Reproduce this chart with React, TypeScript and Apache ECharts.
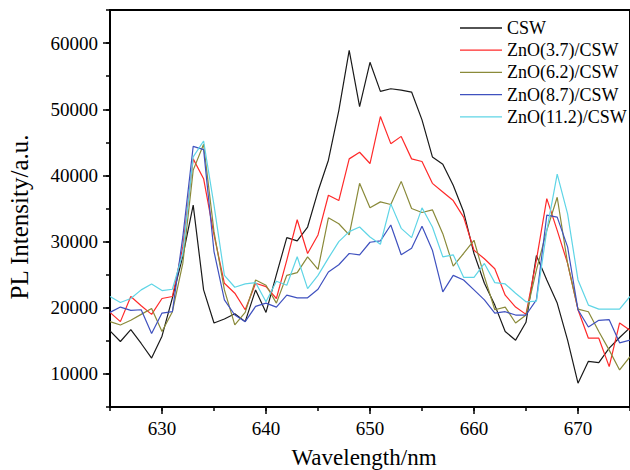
import React, { useEffect, useRef } from 'react';
import * as echarts from 'echarts';

const wavelengths = [
  625, 626, 627, 628, 629, 630, 631, 632, 633, 634,
  635, 636, 637, 638, 639, 640, 641, 642, 643, 644,
  645, 646, 647, 648, 649, 650, 651, 652, 653, 654,
  655, 656, 657, 658, 659, 660, 661, 662, 663, 664,
  665, 666, 667, 668, 669, 670, 671, 672, 673, 674, 675,
];

const csw = [
  16500, 14900, 16700, 14600, 12400, 15700, 21500, 27800, 35500, 22700,
  17700, 18300, 19100, 17900, 22700, 19300, 25000, 30600, 30100, 32200,
  37600, 42300, 49800, 58900, 50400, 57100, 52700, 53100, 52900, 52600,
  48400, 42800, 41700, 38500, 34500, 28200, 23700, 20400, 16400, 15100,
  17800, 27900, 24200, 20700, 15100, 8600, 11900, 11700, 13900, 15500, 17000,
];

const zno37 = [
  19300, 17900, 21700, 20300, 19000, 21400, 21700, 29200, 42500, 39500,
  31000, 23700, 22200, 19700, 23700, 23200, 21400, 27200, 33300, 28200,
  31000, 37000, 36200, 42500, 43500, 41800, 48900, 44800, 45900, 42500,
  42100, 38800, 37500, 36200, 33700, 28700, 27400, 25900, 21900, 20100,
  19000, 27200, 36500, 31700, 26700, 19700, 15400, 15400, 11100, 17700, 16600,
];

const zno62 = [
  17900, 17400, 18100, 19000, 19900, 16400, 19400, 26700, 40800, 44700,
  31500, 22700, 17400, 19300, 24200, 23400, 20700, 24900, 25300, 27700,
  25800, 33600, 32700, 31000, 38800, 35100, 36000, 35600, 39100, 35000,
  34400, 34800, 31200, 26300, 28200, 30200, 24700, 19700, 20100, 17700,
  18900, 25700, 31700, 36700, 26700, 19800, 19400, 16400, 13600, 10600, 12600,
];

const zno87 = [
  19300, 20100, 19600, 19700, 16100, 19200, 19400, 30700, 44400, 43900,
  28500, 21200, 18900, 17900, 20200, 20700, 20100, 21900, 21500, 21500,
  22800, 25400, 26500, 28200, 28000, 29900, 30100, 32500, 28000, 29000,
  32300, 28700, 22400, 24900, 24200, 22700, 21200, 19200, 19400, 18900,
  18900, 21200, 34000, 33700, 29200, 19700, 17100, 18100, 18200, 14700, 15100,
];

const zno112 = [
  21700, 20800, 21400, 22700, 23600, 22600, 22800, 28200, 42800, 45200,
  35500, 24900, 23100, 23600, 23800, 20900, 24000, 23400, 27700, 22900,
  24900, 27500, 30000, 31500, 32200, 30700, 29600, 35700, 32000, 30600,
  35100, 32200, 27700, 28000, 24600, 24600, 26700, 23800, 23600, 22200,
  20900, 21000, 31700, 40200, 34200, 24200, 20400, 19800, 19800, 19800, 21700,
];

const seriesNames = ['CSW', 'ZnO(3.7)/CSW', 'ZnO(6.2)/CSW', 'ZnO(8.7)/CSW', 'ZnO(11.2)/CSW'];
const seriesColors = ['#1a1a1a', '#ff2a2a', '#8a8a3a', '#3f51bf', '#5fd5e6'];
const xMajorTicks = [630, 640, 650, 660, 670];
const yMajorTicks = [10000, 20000, 30000, 40000, 50000, 60000];
const xTitle = 'Wavelength/nm';
const yTitle = 'PL Intensity/a.u.';

export default function App() {
  const ref = useRef<HTMLDivElement>(null);
  useEffect(() => {
    const chart = echarts.init(ref.current as HTMLDivElement, null, { renderer: 'svg' });
    const font = 'Liberation Serif';
    const allData = [csw, zno37, zno62, zno87, zno112];
    const axisCommonX = {
      type: 'value',
      min: 625,
      max: 675,
      interval: 5,
      position: 'bottom',
      splitLine: { show: false },
    };
    const axisCommonY = {
      type: 'value',
      min: 5000,
      max: 65000,
      interval: 5000,
      position: 'left',
      splitLine: { show: false },
    };
    chart.setOption({
      animation: false,
      backgroundColor: '#ffffff',
      grid: {
        left: 110,
        right: -6,
        top: 10,
        bottom: 63,
        show: true,
        borderColor: '#000',
        borderWidth: 2,
        backgroundColor: 'transparent',
      },
      xAxis: [
        {
          ...axisCommonX,
          axisLine: { show: true, lineStyle: { color: '#000', width: 2 } },
          axisTick: { show: true, length: 4, lineStyle: { color: '#000', width: 1.5 } },
          axisLabel: {
            customValues: xMajorTicks,
            fontFamily: font,
            fontSize: 19,
            color: '#000',
            margin: 12,
            formatter: (v: number) => String(v),
          },
        },
        {
          ...axisCommonX,
          axisLine: { show: false },
          axisTick: { show: true, customValues: xMajorTicks, length: 7, lineStyle: { color: '#000', width: 1.5 } },
          axisLabel: { show: false },
        },
      ],
      yAxis: [
        {
          ...axisCommonY,
          axisLine: { show: true, lineStyle: { color: '#000', width: 2 } },
          axisTick: { show: true, length: 4, lineStyle: { color: '#000', width: 1.5 } },
          axisLabel: {
            customValues: yMajorTicks,
            fontFamily: font,
            fontSize: 19,
            color: '#000',
            margin: 12,
            formatter: (v: number) => String(v),
          },
        },
        {
          ...axisCommonY,
          axisLine: { show: false },
          axisTick: { show: true, customValues: yMajorTicks, length: 7, lineStyle: { color: '#000', width: 1.5 } },
          axisLabel: { show: false },
        },
      ],
      legend: {
        orient: 'vertical',
        left: 460,
        top: 19,
        padding: 0,
        icon: 'rect',
        itemWidth: 42,
        itemHeight: 1.3,
        itemGap: 4.2,
        textStyle: { fontFamily: font, fontSize: 18, color: '#000', lineHeight: 18 },
        data: seriesNames,
      },
      graphic: [
        {
          type: 'text',
          x: 364,
          y: 457,
          style: {
            text: xTitle,
            fontFamily: font,
            fontSize: 23,
            fill: '#000',
            textAlign: 'center',
            textVerticalAlign: 'middle',
          },
        },
        {
          type: 'text',
          x: 19,
          y: 217,
          rotation: Math.PI / 2,
          style: {
            text: yTitle,
            fontFamily: font,
            fontSize: 25,
            fill: '#000',
            textAlign: 'center',
            textVerticalAlign: 'middle',
          },
        },
      ],
      series: allData.map((arr, i) => ({
        name: seriesNames[i],
        type: 'line',
        xAxisIndex: 0,
        yAxisIndex: 0,
        symbol: 'none',
        clip: true,
        lineStyle: { color: seriesColors[i], width: 1.2 },
        itemStyle: { color: seriesColors[i] },
        data: wavelengths.map((w, j) => [w, arr[j]]),
      })),
    });
    return () => chart.dispose();
  }, []);
  return <div ref={ref} style={{ position: 'fixed', left: 0, top: 0, width: 630, height: 470 }} />;
}
